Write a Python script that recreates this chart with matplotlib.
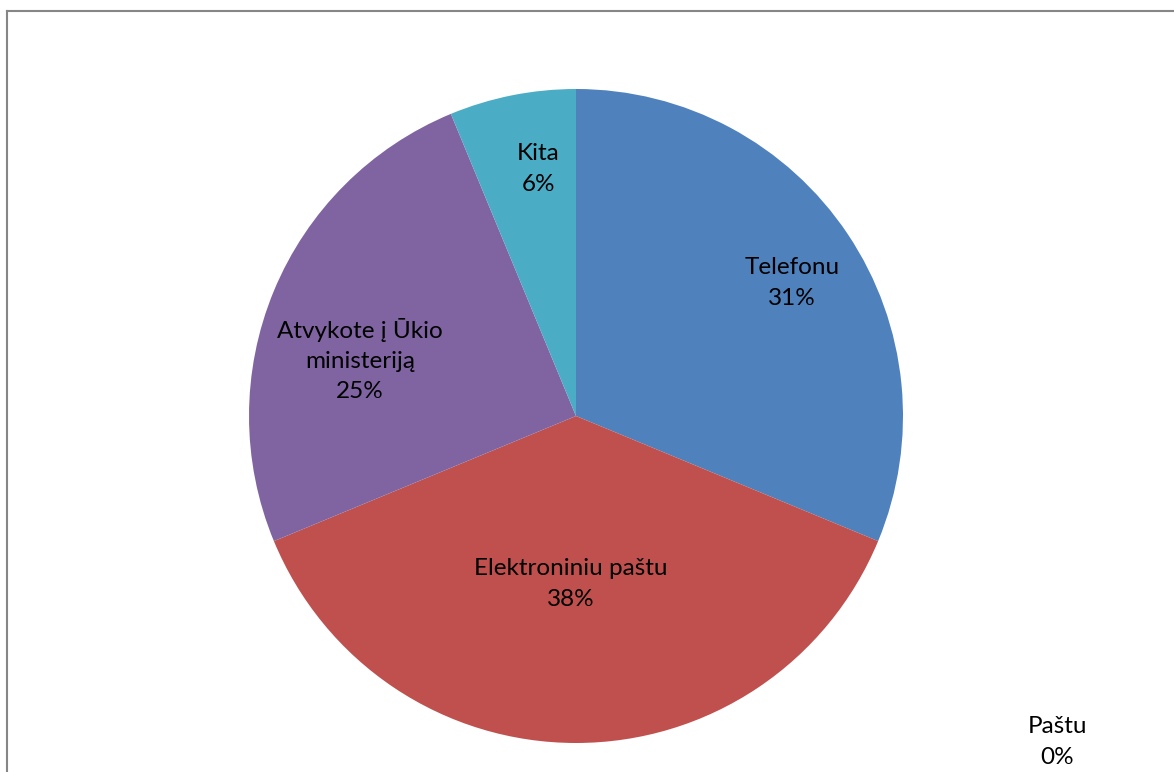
import matplotlib
matplotlib.use("Agg")
import matplotlib.pyplot as plt
from matplotlib.lines import Line2D

# answers (counts of respondents)
labels = ["Telefonu", "Paštu", "Elektroniniu paštu", "Atvykote į Ūkio\nministeriją", "Kita"]
values = [5, 0, 6, 4, 1]
colors = ["#4F81BD", "#9BBB59", "#C0504D", "#8064A2", "#4BACC6"]
# where Excel put each data label (pie radius = 1)
label_pos = [(0.661, 0.407), (1.471, -0.997), (-0.015, -0.514), (-0.661, 0.171), (-0.116, 0.755)]

plt.rcParams['font.family'] = ['Lato', 'DejaVu Sans']

W, H = 1174, 772
fig = plt.figure(figsize=(W / 100, H / 100), dpi=100)
cx, cy, R = 576, 416, 327
ax = fig.add_axes([(cx - R) / W, (H - cy - R) / H, 2 * R / W, 2 * R / H])

wedges, _ = ax.pie(values, colors=colors, startangle=90, counterclock=False,
                   radius=1, wedgeprops=dict(linewidth=0))
ax.set_xlim(-1, 1)
ax.set_ylim(-1, 1)
ax.set_aspect("equal")
ax.axis("off")

total = sum(values)
for lab, v, (x, y) in zip(labels, values, label_pos):
    txt = lab + "\n" + "%d%%" % round(100.0 * v / total)
    ax.text(x, y, txt, ha="center", va="center", fontsize=17.5,
            linespacing=1.55, clip_on=False)

# chart area border (only left and top visible)
fig.add_artist(Line2D([7 / W, 7 / W], [0, 1 - 11 / H], transform=fig.transFigure,
                      color="#868686", lw=1.5))
fig.add_artist(Line2D([7 / W, 1], [1 - 11 / H, 1 - 11 / H], transform=fig.transFigure,
                      color="#868686", lw=1.5))

fig.savefig("out.png", dpi=100)
